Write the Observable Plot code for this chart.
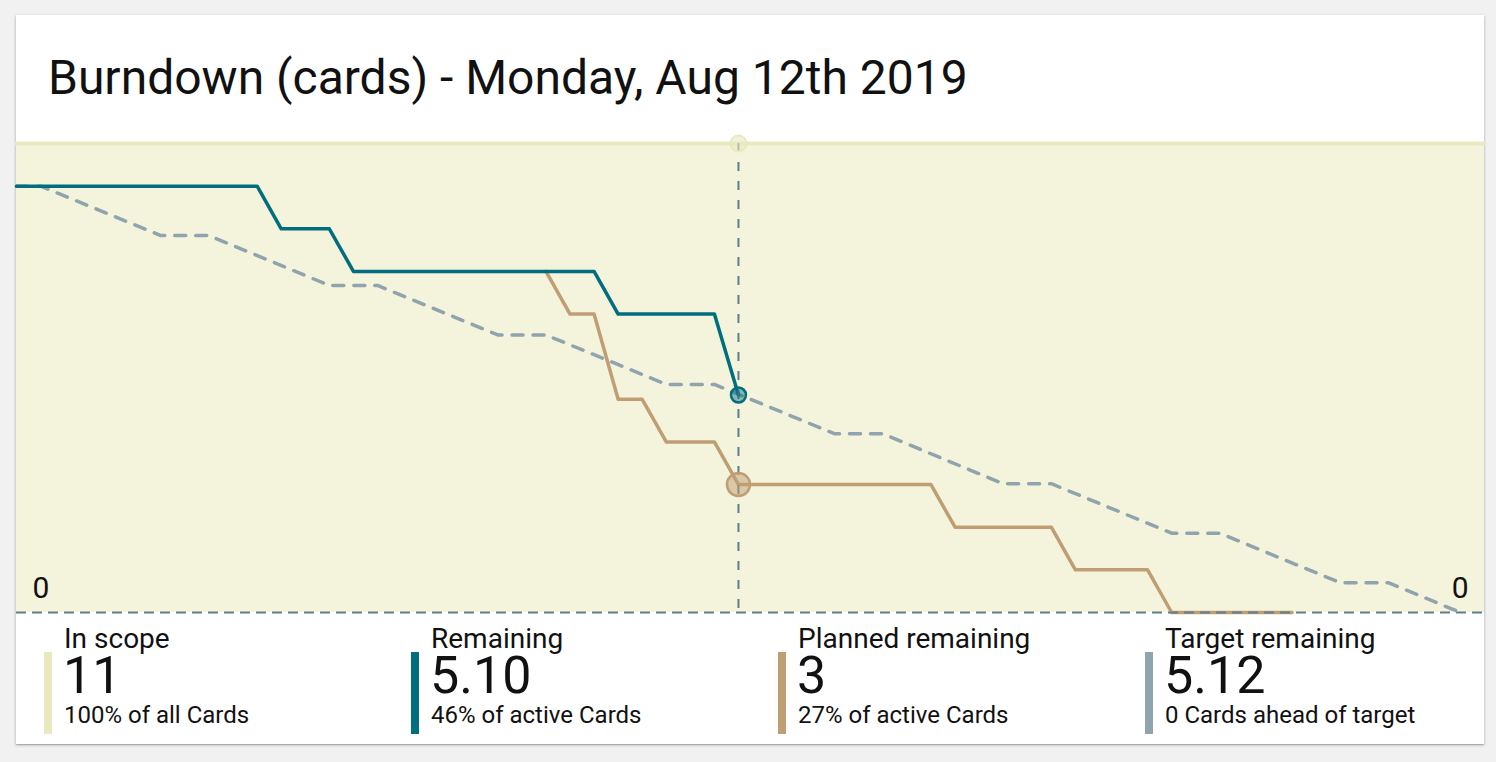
<!DOCTYPE html>
<html>
<head>
<meta charset="utf-8">
<script src="https://cdn.jsdelivr.net/npm/d3@7"></script>
<script src="https://cdn.jsdelivr.net/npm/@observablehq/plot@0.6"></script>
<style>
  html, body { margin: 0; padding: 0; background: #f1f1f1; font-family: Roboto, "Noto Sans", sans-serif; color: #111; }
  #card { position: absolute; left: 16px; top: 15px; width: 1468px; height: 729px; background: #fff;
          box-shadow: 0 1px 3px rgba(0,0,0,0.28), 0 1px 1px rgba(0,0,0,0.12); }
  #title { position: absolute; left: 32px; top: 39px; font-size: 48px; line-height: 48px; white-space: nowrap; }
  #chart { position: absolute; left: 0; top: 112px; }
  .leg { position: absolute; top: 0; }
  .leg .bar { position: absolute; left: 0; top: 637px; width: 8px; height: 82px; }
  .leg .lab { position: absolute; left: 20px; top: 613px; font-size: 28px; line-height: 22px; white-space: nowrap; }
  .leg .num { position: absolute; left: 19px; top: 639px; font-size: 52px; line-height: 44px; white-space: nowrap; }
  .leg .sub { position: absolute; left: 20px; top: 690px; font-size: 24px; line-height: 20px; white-space: nowrap; }
</style>
</head>
<body>
<div id="card">
  <div id="title"></div>
  <div id="chart"></div>
</div>
<script>
// ---- data ----
const titleText = "Burndown (cards) - Monday, Aug 12th 2019";
const xDomain = ["2019-07-13", "2019-09-12"];
const currentDate = "2019-08-12";

const scopeDates = ["2019-07-13", "2019-09-12"];
const scopeValues = [11, 11];

const remainingDates = ["2019-07-13","2019-07-23","2019-07-24","2019-07-26","2019-07-27","2019-08-06","2019-08-07","2019-08-11","2019-08-12"];
const remainingValues = [10, 10, 9, 9, 8, 8, 7, 7, 5.10];

const plannedDates = ["2019-08-04","2019-08-05","2019-08-06","2019-08-07","2019-08-08","2019-08-09","2019-08-11","2019-08-12","2019-08-20","2019-08-21","2019-08-25","2019-08-26","2019-08-29","2019-08-30","2019-09-04"];
const plannedValues = [8, 7, 7, 5, 5, 4, 4, 3, 3, 2, 2, 1, 1, 0, 0];

const targetDates = ["2019-07-13","2019-07-14","2019-07-19","2019-07-21","2019-07-26","2019-07-28","2019-08-02","2019-08-04","2019-08-09","2019-08-11","2019-08-16","2019-08-18","2019-08-23","2019-08-25","2019-08-30","2019-09-01","2019-09-06","2019-09-08","2019-09-11"];
const targetValues = [10, 10, 8.84, 8.84, 7.67, 7.67, 6.51, 6.51, 5.35, 5.35, 4.19, 4.19, 3.02, 3.02, 1.86, 1.86, 0.70, 0.70, 0];

const currentValues = { scope: 11, remaining: 5.10, planned: 3 };
const yTickLabels = [0];

const legendLabels = ["In scope", "Remaining", "Planned remaining", "Target remaining"];
const legendValues = ["11", "5.10", "3", "5.12"];
const legendNotes = ["100% of all Cards", "46% of active Cards", "27% of active Cards", "0 Cards ahead of target"];

// ---- colours ----
const C = { fill: "#f4f3dc", scope: "#e9e9bf", remaining: "#006e7e", planned: "#c09e74", target: "#90a4ae", axis: "#607d8b" };

// ---- build ----
const parse = d3.utcParse("%Y-%m-%d");
const zip = (ds, vs) => ds.map((d, i) => ({ date: parse(d), value: vs[i] }));
const scope = zip(scopeDates, scopeValues);
const remaining = zip(remainingDates, remainingValues);
const planned = zip(plannedDates, plannedValues);
const target = zip(targetDates, targetValues);
const cur = parse(currentDate);

document.getElementById("title").textContent = titleText;

const chart = Plot.plot({
  width: 1468,
  height: 490,
  marginTop: 16,
  marginBottom: 5,
  marginLeft: 0,
  marginRight: 0,
  x: { type: "utc", domain: xDomain.map(parse), axis: null },
  y: { domain: [0, 11], axis: null },
  style: { fontFamily: "Roboto, sans-serif", background: "transparent", overflow: "visible" },
  marks: [
    Plot.areaY(scope, { x: "date", y: "value", fill: C.fill }),
    Plot.lineY(scope, { x: "date", y: "value", stroke: C.scope, strokeWidth: 4 }),
    Plot.lineY(planned, { x: "date", y: "value", stroke: C.planned, strokeWidth: 3.5 }),
    Plot.ruleY([0], { stroke: C.axis, strokeWidth: 2, strokeDasharray: "10,6" }),
    Plot.lineY(target, { x: "date", y: "value", stroke: C.target, strokeWidth: 3.5, strokeDasharray: "11,10" }),
    Plot.lineY(remaining, { x: "date", y: "value", stroke: C.remaining, strokeWidth: 3.5 }),
    Plot.ruleX([cur], { y1: 11, y2: 0, stroke: C.axis, strokeWidth: 2, strokeDasharray: "9,10" }),
    Plot.dot([{ date: cur, value: currentValues.scope }], { x: "date", y: "value", r: 8, fill: C.scope, fillOpacity: 0.6, stroke: C.scope, strokeWidth: 2 }),
    Plot.dot([{ date: cur, value: currentValues.planned }], { x: "date", y: "value", r: 11.5, fill: C.planned, fillOpacity: 0.5, stroke: C.planned, strokeWidth: 2.5 }),
    Plot.dot([{ date: cur, value: currentValues.remaining }], { x: "date", y: "value", r: 7.5, fill: C.remaining, fillOpacity: 0.45, stroke: C.remaining, strokeWidth: 2.5 }),
    Plot.text(yTickLabels, { y: d => d, text: d => String(d), frameAnchor: "left", textAnchor: "start", lineAnchor: "bottom", dx: 16, dy: -15, fontSize: 30, fill: "#111" }),
    Plot.text(yTickLabels, { y: d => d, text: d => String(d), frameAnchor: "right", textAnchor: "end", lineAnchor: "bottom", dx: -16, dy: -15, fontSize: 30, fill: "#111" })
  ]
});
document.getElementById("chart").appendChild(chart);

const legColors = [C.scope, C.remaining, C.planned, C.target];
const card = document.getElementById("card");
legendLabels.forEach((lab, i) => {
  const g = document.createElement("div");
  g.className = "leg";
  g.style.left = (28 + 367 * i) + "px";
  g.innerHTML = `<div class="bar" style="background:${legColors[i]}"></div>
    <div class="lab">${lab}</div><div class="num">${legendValues[i]}</div><div class="sub">${legendNotes[i]}</div>`;
  card.appendChild(g);
});
</script>
</body>
</html>
